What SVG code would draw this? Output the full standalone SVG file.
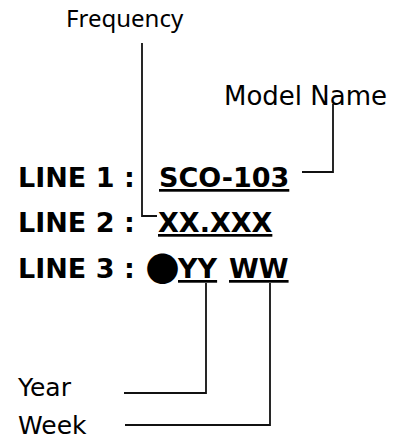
<svg xmlns="http://www.w3.org/2000/svg" width="405" height="439" viewBox="0 0 405 439">
<style>
.lbl{font-family:"DejaVu Sans",Verdana,sans-serif;font-size:25px;fill:#000}
.big{font-family:"DejaVu Sans","Liberation Sans",sans-serif;font-weight:bold;font-size:27px;fill:#000}
.ul{text-decoration:underline}
.conn{fill:none;stroke:#111;stroke-width:1.8}
</style>
<rect width="405" height="439" fill="#fff"/>
<g id="connectors">
<polyline class="conn" points="142,43 142,216 157,216"/>
<polyline class="conn" points="302,172 333,172 333,104"/>
<polyline class="conn" points="124,393 206,393 206,283"/>
<polyline class="conn" points="125,425 270,425 270,283"/>
</g>
<g id="frequency"><text x="66" y="27" style="font-family:'Noto Sans',sans-serif;font-size:24px;fill:#000">Frequency</text></g>
<g id="model-name"><text class="lbl" x="224" y="105" style="font-size:26px">Model Name</text></g>
<g id="line1">
<text class="big" x="18" y="187">LINE 1 :</text>
<text class="big ul" x="159" y="187">SCO-103</text>
</g>
<g id="line2">
<text class="big" x="18" y="232">LINE 2 :</text>
<text class="big ul" x="158" y="232">XX.XXX</text>
</g>
<g id="line3">
<text class="big" x="18" y="278">LINE 3 :</text>
<text x="162.5" y="282" text-anchor="middle" style="font-family:'Noto Sans CJK KR',sans-serif;font-size:34px;fill:#000">●</text>
<text class="big ul" x="178" y="278">YY</text>
<text class="big ul" x="229" y="278">WW</text>
</g>
<g id="year"><text class="lbl" x="18" y="396">Year</text></g>
<g id="week"><text class="lbl" x="18" y="434">Week</text></g>
</svg>
